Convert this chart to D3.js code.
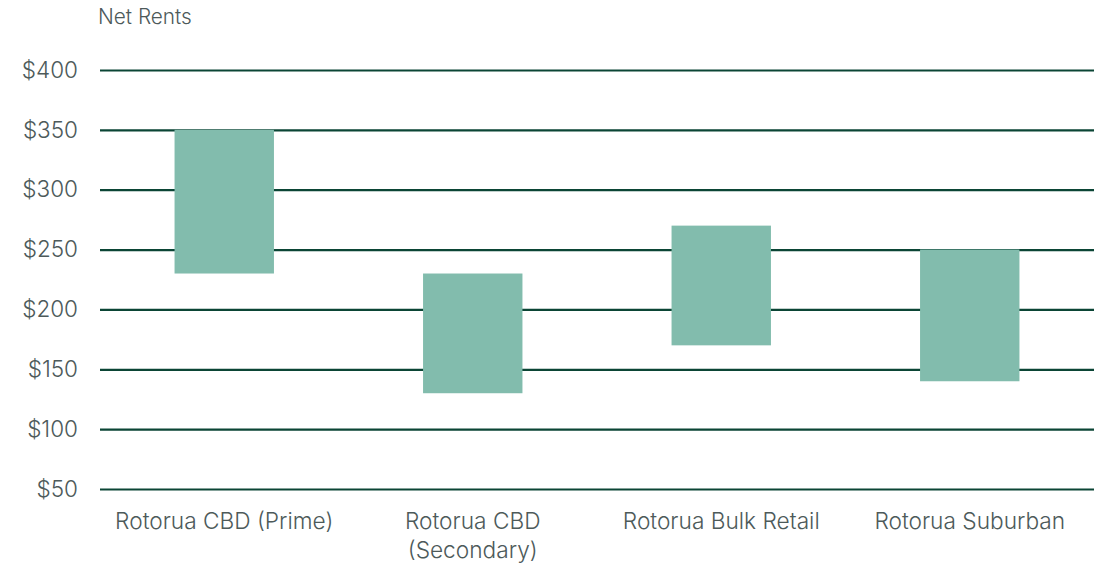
<!DOCTYPE html>
<html><head><meta charset="utf-8">
<script src="https://cdn.jsdelivr.net/npm/d3@7"></script>
<style>body{margin:0;background:#fff}svg{display:block}text{font-family:Inter,"Noto Sans",sans-serif}</style>
</head><body>
<svg id="c" width="1104" height="564"></svg>
<script>
const categories = [["Rotorua CBD (Prime)"], ["Rotorua CBD", "(Secondary)"], ["Rotorua Bulk Retail"], ["Rotorua Suburban"]];
const lowValues = [230, 130, 170, 140];
const highValues = [350, 230, 270, 250];
const yTicks = [50, 100, 150, 200, 250, 300, 350, 400];
const yTitle = "Net Rents";

(function(){
const svg = d3.select("#c");
const mLeft = 100, mRight = 1094, mTop = 70, mBottom = 489;
const x = d3.scaleBand().domain(categories.map((d,i)=>i)).range([mLeft, mRight]).paddingInner(0.6).paddingOuter(0.3);
const y = d3.scaleLinear().domain([50, 400]).range([mBottom, mTop]);
const textColor = "#4d5a5a";

const yAxis = svg.append("g").attr("transform", `translate(${mLeft},0)`)
  .call(d3.axisLeft(y).tickValues(yTicks).tickSize(-(mRight-mLeft)).tickPadding(22).tickFormat(d=>"$"+d));
yAxis.select(".domain").remove();
yAxis.selectAll(".tick line").attr("stroke", "#0b4535").attr("stroke-width", 2.2);
yAxis.selectAll(".tick text").attr("fill", textColor).attr("font-size", 22.5).attr("font-weight", 300);

svg.append("g").selectAll("rect").data(categories).join("rect")
  .attr("x", (d,i)=>x(i)).attr("width", x.bandwidth())
  .attr("y", (d,i)=>y(highValues[i])).attr("height", (d,i)=>y(lowValues[i]) - y(highValues[i]))
  .attr("fill", "#82bcad");

const xl = svg.append("g");
categories.forEach((lines, i) => {
  const t = xl.append("text").attr("text-anchor", "middle").attr("fill", textColor).attr("font-size", 22.7).attr("font-weight", 300)
    .attr("x", x(i) + x.bandwidth()/2).attr("y", 529);
  lines.forEach((l, j) => t.append("tspan").attr("x", x(i) + x.bandwidth()/2).attr("dy", j ? 29 : 0).text(l));
});

svg.append("text").attr("x", 98).attr("y", 24).attr("fill", textColor).attr("font-size", 20.8).attr("font-weight", 300).text(yTitle);
})();
</script>
</body></html>
